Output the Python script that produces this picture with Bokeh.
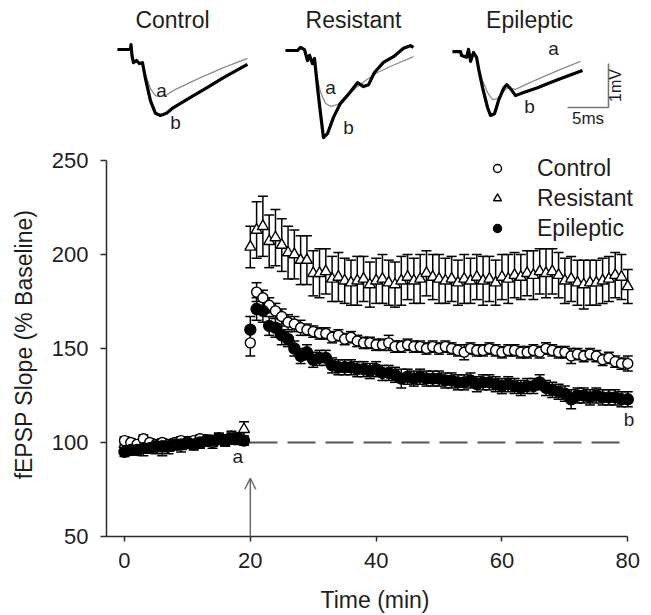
import numpy as np
from bokeh.plotting import figure
from bokeh.models import (Range1d, ColumnDataSource, Whisker, TeeHead, Legend, LegendItem,
                          Arrow, OpenHead, FixedTicker)
from bokeh.layouts import column
from bokeh.embed import file_html
from bokeh.resources import INLINE
from bokeh.core.properties import value

# ---------------- data: LTP time course ----------------
time_min = list(range(0, 81))  # 0..19 baseline, 20..80 post-tetanus

control_mean = [101, 100, 99, 102, 100, 99, 100, 99, 100, 101, 100, 101, 102, 101, 100, 102, 101, 103, 102, 101,
                153, 180, 177, 173, 170, 167, 164, 163, 161, 160, 159, 158, 158, 156, 157, 155, 156, 154, 153, 153,
                152, 152, 153, 151, 151, 152, 151, 151, 150, 151, 150, 151, 150, 149, 148, 150, 149, 149, 150, 149,
                148, 149, 149, 148, 148, 149, 148, 150, 149, 148, 148, 146, 147, 146, 147, 146, 144, 145, 143, 142, 142]
control_sem = [2] * 20 + [7, 5, 4, 4, 4, 4, 4, 4, 4, 3, 3, 3, 3, 3, 3, 3, 3, 3, 3, 3,
                          3, 3, 4, 3, 3, 3, 3, 3, 3, 3, 3, 3, 3, 3, 4, 3, 3, 3, 3, 3,
                          3, 3, 3, 3, 3, 3, 3, 3, 3, 3, 3, 4, 3, 3, 3, 3, 3, 3, 3, 3, 4]

resistant_mean = [99, 97, 98, 96, 98, 97, 96, 97, 99, 98, 100, 99, 100, 101, 100, 102, 101, 103, 102, 107,
                  204, 213, 215, 207, 209, 205, 201, 200, 197, 197, 190, 190, 191, 187, 188, 186, 185, 186, 187, 184,
                  186, 187, 185, 184, 186, 188, 186, 187, 190, 188, 187, 186, 187, 185, 187, 186, 188, 186, 187, 185,
                  188, 187, 189, 188, 190, 189, 191, 190, 191, 189, 186, 187, 185, 184, 185, 185, 186, 187, 189, 188, 183]
resistant_sem = [3] * 19 + [4] + [11, 15, 16, 14, 15, 14, 14, 13, 13, 13, 12, 13, 12, 12, 13, 12, 12, 13, 12, 12,
                                  12, 13, 12, 12, 13, 12, 12, 13, 12, 12, 13, 12, 12, 12, 13, 12, 12, 13, 12, 12,
                                  12, 13, 12, 12, 12, 13, 12, 13, 12, 12, 12, 12, 12, 13, 12, 12, 12, 12, 12, 12, 9]

epileptic_mean = [95, 96, 96, 97, 97, 98, 98, 98, 99, 99, 100, 99, 100, 101, 101, 102, 101, 102, 102, 101,
                  160, 171, 170, 162, 161, 157, 155, 150, 146, 148, 144, 145, 145, 141, 140, 140, 140, 139, 139, 138,
                  139, 137, 137, 136, 134, 135, 134, 135, 134, 134, 134, 133, 133, 132, 132, 133, 131, 132, 132, 131,
                  130, 131, 130, 129, 130, 130, 132, 129, 128, 127, 126, 123, 125, 125, 124, 125, 124, 124, 124, 123, 123]
epileptic_sem = [2.5] * 20 + [7, 6, 6, 5, 5, 5, 4, 4, 4, 4, 4, 4, 4, 4, 4, 4, 4, 4, 4, 4,
                              4, 4, 4, 4, 5, 4, 4, 4, 4, 4, 4, 4, 4, 4, 4, 4, 4, 4, 4, 4,
                              4, 4, 4, 4, 4, 4, 4, 4, 4, 4, 4, 5, 4, 4, 4, 4, 4, 4, 4, 4, 4]

baseline_level = 100
tetanus_time = 20
y_ticks = [50, 100, 150, 200, 250]
x_ticks = [0, 20, 40, 60, 80]

# ---------------- data: example fEPSP traces (ms, mV relative to trace start) ----------------
ctrl_a_t = [0, 1.59, 1.65, 1.77, 1.95, 2.32, 2.68, 3.05, 3.41, 4.02, 4.63, 5.12, 5.85, 6.83, 10.12, 12.93, 15.85]
ctrl_a_v = [0, 0, 0.11, -0.14, -0.30, -0.25, -0.32, -0.30, -0.57, -0.89, -1.05, -1.07, -1.05, -0.93, -0.64, -0.41, -0.20]
ctrl_b_t = [0, 1.59, 1.65, 1.77, 1.95, 2.32, 2.68, 3.05, 3.41, 4.02, 4.63, 5.24, 5.98, 6.83, 8.90, 10.98, 12.93, 15.85]
ctrl_b_v = [0, 0, 0.11, -0.14, -0.30, -0.25, -0.32, -0.30, -0.66, -1.16, -1.45, -1.50, -1.45, -1.32, -1.09, -0.86, -0.64, -0.34]

res_a_t = [0, 1.46, 1.83, 2.32, 2.68, 2.93, 3.29, 3.54, 3.90, 4.27, 4.88, 5.49, 6.34, 7.32, 8.54, 9.76, 11.22, 13.05, 15.61]
res_a_v = [0, 0, 0.07, 0.02, -0.23, -0.11, -0.30, -0.18, -0.64, -0.95, -1.20, -1.27, -1.23, -1.07, -0.86, -0.68, -0.50, -0.34, -0.14]
res_b_t = [0, 1.46, 1.83, 2.32, 2.68, 2.93, 3.29, 3.54, 3.90, 4.27, 4.63, 5.12, 5.85, 6.71, 7.56, 8.78, 9.51, 10.12,
           10.85, 11.95, 13.17, 14.39, 15.24, 15.61]
res_b_v = [0, 0, 0.07, 0.02, -0.23, -0.11, -0.30, -0.18, -0.84, -1.43, -1.98, -1.89, -1.52, -1.20, -1.02, -0.73, -0.82, -0.78,
           -0.50, -0.27, -0.14, 0.05, 0.11, 0.07]

epi_a_t = [0, 0.98, 1.10, 1.71, 1.95, 2.20, 2.56, 2.93, 3.17, 3.66, 4.27, 4.88, 5.49, 6.10, 6.71, 7.20, 7.68, 9.51, 11.95, 13.78, 15.61]
epi_a_v = [0.02, 0.02, -0.07, -0.11, 0.07, -0.20, 0.0, -0.11, -0.36, -0.64, -0.91, -1.07, -1.05, -0.91, -0.80, -0.82, -0.84, -0.68, -0.48, -0.34, -0.20]
epi_b_t = [0, 0.98, 1.10, 1.71, 1.95, 2.20, 2.56, 2.93, 3.17, 3.66, 4.27, 4.63, 5.12, 5.61, 6.22, 6.59, 7.07, 7.68, 8.66, 10.37, 11.95, 13.54, 15.85]
epi_b_v = [0.02, 0.02, -0.07, -0.11, 0.07, -0.20, 0.0, -0.11, -0.36, -0.80, -1.25, -1.43, -1.39, -1.09, -0.82, -0.73, -0.82, -0.98, -0.91, -0.80, -0.68, -0.57, -0.41]

trace_names = ["Control", "Resistant", "Epileptic"]
scale_ms = 5
scale_mv = 1

# ---------------- layout constants ----------------
FONT = "Liberation Sans"
TXT = "#1e1e1e"
PX_PER_MS = 8.2
PX_PER_MV = 44.0
FRAME_LEFT = 106          # both panels share this frame left edge (column aligns frames)
FRAME_W = 537
TOP_H = 132

# trace origins in (ms, mV) of the inset panel
trace_origin = {"Control": (13.29, -0.932), "Resistant": (33.78, -0.955), "Epileptic": (54.15, -1.0)}
title_x = [20.0, 42.07, 63.54]
title_y = -0.27
ab_pos = {"Control": [(18.66, -1.86), (20.37, -2.59)],
          "Resistant": [(39.27, -1.80), (41.46, -2.70)],
          "Epileptic": [(66.46, -0.91), (63.54, -2.23)]}
bar_corner = (73.17, -2.25)

# ---------------- inset panel with traces ----------------
ms_start = (FRAME_LEFT - 8) / PX_PER_MS
top = figure(frame_width=FRAME_W, frame_height=TOP_H,
             x_range=Range1d(ms_start, ms_start + FRAME_W / PX_PER_MS),
             y_range=Range1d(-TOP_H / PX_PER_MV, 0), toolbar_location=None,
             output_backend="svg", min_border_left=FRAME_LEFT, min_border_top=8,
             min_border_right=8, min_border_bottom=0)
top.axis.visible = False
top.grid.visible = False
top.outline_line_color = None

traces = {"Control": ((ctrl_a_t, ctrl_a_v), (ctrl_b_t, ctrl_b_v)),
          "Resistant": ((res_a_t, res_a_v), (res_b_t, res_b_v)),
          "Epileptic": ((epi_a_t, epi_a_v), (epi_b_t, epi_b_v))}
for name in trace_names:
    (at, av), (bt, bv) = traces[name]
    ox, oy = trace_origin[name]
    top.line([ox + t for t in at], [oy + v for v in av], line_color="#8c8c8c", line_width=1.3)
    top.line([ox + t for t in bt], [oy + v for v in bv], line_color="black", line_width=3.2,
             line_join="round")
    (ax_, ay_), (bx_, by_) = ab_pos[name]
    top.text(x=[ax_, bx_], y=[ay_, by_], text=["a", "b"], text_font=value(FONT),
             text_font_size="19px", text_color=TXT, text_align="center", text_baseline="middle")

top.text(x=title_x, y=[title_y] * 3, text=trace_names, text_font=value(FONT),
         text_font_size="23px", text_color=TXT, text_align="center", text_baseline="middle")

cx, cy = bar_corner
top.line([cx - scale_ms, cx, cx], [cy, cy, cy + scale_mv], line_color="#777777", line_width=1.6)
top.text(x=[cx - scale_ms / 2], y=[cy - 0.25], text=["5ms"], text_font=value(FONT),
         text_font_size="17px", text_color=TXT, text_align="center", text_baseline="middle")
top.text(x=[cx + 0.85], y=[cy + scale_mv / 2], text=["1mV"], angle=np.pi / 2, text_font=value(FONT),
         text_font_size="16px", text_color=TXT, text_align="center", text_baseline="middle")

# ---------------- main LTP panel ----------------
X_START, X_END = -2.86, 82.5
PX_PER_UNIT = 376 / 200.0
Y_END = y_ticks[-1] + 8 / PX_PER_UNIT   # a little head-room above 250 so the legend is not clipped
p = figure(frame_width=FRAME_W, frame_height=384, min_border_left=FRAME_LEFT, min_border_right=8,
           min_border_top=12, min_border_bottom=79,
           x_range=Range1d(X_START, X_END), y_range=Range1d(y_ticks[0], Y_END),
           toolbar_location=None, output_backend="svg")
p.grid.visible = False
p.outline_line_color = None

for ax in (p.xaxis[0], p.yaxis[0]):
    ax.axis_line_color = "#2a2a2a"
    ax.axis_line_width = 1.5
    ax.major_tick_line_color = "#2a2a2a"
    ax.major_tick_line_width = 1.5
    ax.major_tick_in = 0
    ax.minor_tick_line_color = None
    ax.major_label_text_font = FONT
    ax.major_label_text_font_size = "22px"
    ax.major_label_text_color = TXT
    ax.axis_label_text_font = FONT
    ax.axis_label_text_font_size = "23px"
    ax.axis_label_text_font_style = "normal"
    ax.axis_label_text_color = TXT

p.xaxis.ticker = FixedTicker(ticks=x_ticks)
p.yaxis.ticker = FixedTicker(ticks=y_ticks)
p.xaxis.bounds = (X_START, x_ticks[-1])
p.yaxis.bounds = (y_ticks[0], y_ticks[-1])
p.xaxis.major_tick_out = 5
p.yaxis.major_tick_out = 6
p.xaxis.major_label_standoff = 11
p.yaxis.major_label_standoff = 12
p.xaxis.axis_label = "Time (min)"
p.yaxis.axis_label = "fEPSP Slope (% Baseline)"
p.xaxis.axis_label_standoff = 16
p.yaxis.axis_label_standoff = 12

# dashed baseline
p.line([time_min[0], time_min[-1]], [baseline_level, baseline_level], line_color="#555555",
       line_width=2, line_dash="28 10", line_dash_offset=27)

# tetanus arrow
p.add_layout(Arrow(end=OpenHead(size=11, line_color="#6a6a6a", line_width=1.5),
                   x_start=tetanus_time, y_start=50, x_end=tetanus_time, y_end=81,
                   line_color="#6a6a6a", line_width=1.5))


def series(mean, sem, marker, size, fill):
    src = ColumnDataSource(dict(t=time_min, m=mean,
                                lo=[m - s for m, s in zip(mean, sem)],
                                hi=[m + s for m, s in zip(mean, sem)]))
    w = Whisker(source=src, base="t", upper="hi", lower="lo", dimension="height",
                line_color="black", line_width=1.5,
                upper_head=TeeHead(size=10, line_color="black", line_width=1.5),
                lower_head=TeeHead(size=10, line_color="black", line_width=1.5))
    p.add_layout(w)
    return p.scatter("t", "m", source=src, marker=marker, size=size, fill_color=fill,
                     line_color="black", line_width=1.4)


r_res = series(resistant_mean, resistant_sem, "triangle", 11, "white")
r_ctrl = series(control_mean, control_sem, "circle", 10, "white")
r_epi = series(epileptic_mean, epileptic_sem, "circle", 11, "black")

# point labels a / b
p.text(x=[18, 80.2], y=[92.4, 112], text=["a", "b"], text_font=value(FONT), text_font_size="19px",
       text_color=TXT, text_align="center", text_baseline="middle")

legend = Legend(items=[LegendItem(label="Control", renderers=[r_ctrl]),
                       LegendItem(label="Resistant", renderers=[r_res]),
                       LegendItem(label="Epileptic", renderers=[r_epi])],
                location=(381, 293), glyph_width=20, glyph_height=30, label_height=30,
                label_standoff=30, spacing=0, padding=0, margin=0,
                label_text_font=FONT, label_text_font_size="23px", label_text_color=TXT,
                background_fill_alpha=0, border_line_alpha=0)
p.add_layout(legend)

layout = column(top, p, spacing=0)
open("out.html", "w").write(file_html(layout, INLINE))
